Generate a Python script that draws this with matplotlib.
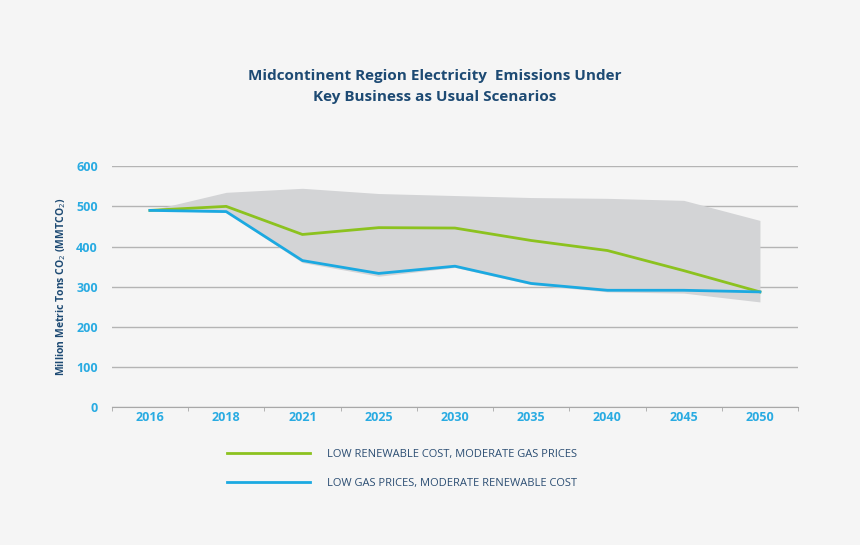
import matplotlib.pyplot as plt
import numpy as np

anos = ['2016', '2018', '2021', '2025', '2030', '2035', '2040', '2045', '2050']
renovavel_barato = [490, 500, 430, 447, 446, 415, 390, 340, 287]
gas_barato = [490, 487, 365, 333, 351, 308, 291, 291, 287]
faixa_max = [490, 535, 545, 532, 527, 522, 520, 515, 465]
faixa_min = [490, 485, 360, 326, 348, 305, 287, 284, 262]

plt.rcParams['font.family'] = ['Open Sans', 'DejaVu Sans']

fig = plt.figure(figsize=(8.6, 5.45), dpi=100, facecolor='#f5f5f5')
ax = fig.add_axes([0.130, 0.253, 0.798, 0.442])
ax.set_facecolor('#f5f5f5')

x = np.arange(len(anos))
ax.fill_between(x, faixa_min, faixa_max, color='#d3d4d6', linewidth=0, zorder=2)
ax.plot(x, renovavel_barato, color='#8cc21f', linewidth=2, zorder=3,
        label='LOW RENEWABLE COST, MODERATE GAS PRICES')
ax.plot(x, gas_barato, color='#1ba9e1', linewidth=2, zorder=3,
        label='LOW GAS PRICES, MODERATE RENEWABLE COST')

ax.set_xlim(-0.5, len(anos) - 0.5)
ax.set_ylim(0, 600)
ax.set_yticks(range(0, 601, 100))
ax.yaxis.grid(True, color='#b4b4b4', linewidth=1, zorder=1)
ax.set_axisbelow(True)
for lado in ['top', 'right', 'left']:
    ax.spines[lado].set_visible(False)
ax.spines['bottom'].set_color('#a8a8a8')

ax.set_xticks(x)
ax.set_xticklabels(anos)
ax.set_xticks(np.arange(-0.5, len(anos)), minor=True)
ax.tick_params(axis='x', which='major', length=0, pad=3, labelcolor='#29abe2', labelsize=9)
ax.tick_params(axis='x', which='minor', length=3, color='#a8a8a8')
ax.tick_params(axis='y', length=0, pad=10, labelcolor='#29abe2', labelsize=9)
for t in ax.get_xticklabels() + ax.get_yticklabels():
    t.set_fontweight('bold')

ax.set_ylabel('Million Metric Tons CO$_2$ (MMTCO$_2$)', color='#1d4a73',
              fontsize=7.5, fontweight='bold', labelpad=6)

fig.text(0.506, 0.841, 'Midcontinent Region Electricity  Emissions Under\nKey Business as Usual Scenarios',
         ha='center', va='center', color='#1d4a73', fontsize=11, fontweight='bold', linespacing=1.6)

fig.legend(loc='upper left', bbox_to_anchor=(0.264, 0.176), frameon=False,
           fontsize=8, handlelength=7.5, handletextpad=1.5, labelspacing=1.6,
           borderpad=0, borderaxespad=0, labelcolor='#2c4e73')

plt.savefig('out.png', dpi=100, facecolor=fig.get_facecolor())
